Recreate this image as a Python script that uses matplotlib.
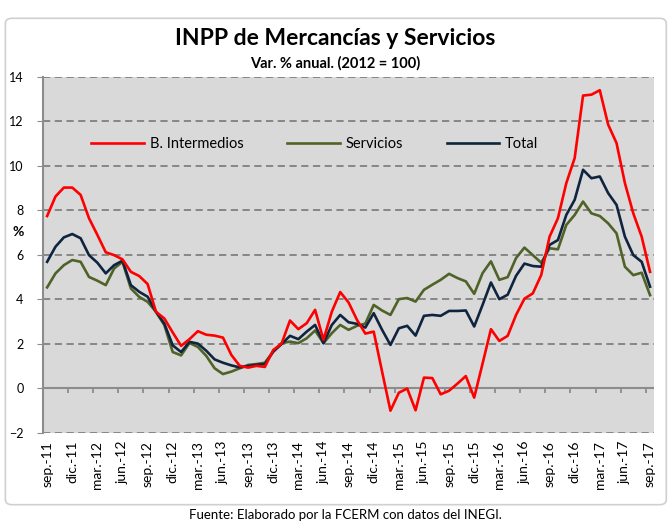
import numpy as np
import matplotlib
matplotlib.use("Agg")
import matplotlib.pyplot as plt
from matplotlib.patches import FancyBboxPatch

plt.rcParams['font.family'] = ['Lato', 'DejaVu Sans']

# monthly, sep-11 .. sep-17
tick_labels = ["sep.-11", "dic.-11", "mar.-12", "jun.-12", "sep.-12", "dic.-12",
               "mar.-13", "jun.-13", "sep.-13", "dic.-13", "mar.-14", "jun.-14",
               "sep.-14", "dic.-14", "mar.-15", "jun.-15", "sep.-15", "dic.-15",
               "mar.-16", "jun.-16", "sep.-16", "dic.-16", "mar.-17", "jun.-17",
               "sep.-17"]

b_intermedios = [7.74, 8.62, 9.02, 9.02, 8.69, 7.64, 6.89, 6.11, 5.98, 5.79,
                 5.23, 5.04, 4.68, 3.43, 3.13, 2.50, 1.90, 2.20, 2.56, 2.40,
                 2.36, 2.27, 1.49, 1.00, 0.92, 1.00, 0.95, 1.71, 2.00, 3.04,
                 2.65, 2.92, 3.52, 2.17, 3.44, 4.32, 3.85, 3.07, 2.45, 2.54,
                 0.74, -1.02, -0.21, -0.02, -1.00, 0.47, 0.45, -0.28, -0.12, 0.20,
                 0.54, -0.43, 1.10, 2.65, 2.12, 2.35, 3.29, 4.02, 4.26, 5.08,
                 6.81, 7.64, 9.22, 10.35, 13.16, 13.20, 13.40, 11.85, 11.02, 9.22,
                 7.86, 6.81, 5.23]

servicios = [4.53, 5.16, 5.53, 5.76, 5.68, 5.00, 4.83, 4.63, 5.38, 5.68,
             4.48, 4.10, 3.88, 3.43, 2.83, 1.62, 1.47, 2.03, 1.85, 1.45,
             0.89, 0.63, 0.74, 0.89, 1.04, 1.08, 1.14, 1.64, 2.02, 2.09,
             2.02, 2.24, 2.59, 2.02, 2.47, 2.84, 2.62, 2.80, 2.90, 3.74,
             3.49, 3.29, 4.00, 4.05, 3.89, 4.42, 4.65, 4.87, 5.14, 4.95,
             4.80, 4.24, 5.17, 5.70, 4.87, 4.99, 5.85, 6.32, 5.98, 5.64,
             6.29, 6.24, 7.34, 7.79, 8.39, 7.86, 7.74, 7.41, 6.96, 5.46,
             5.08, 5.19, 4.18]

total = [5.68, 6.36, 6.78, 6.93, 6.74, 5.98, 5.64, 5.16, 5.53, 5.73,
         4.63, 4.33, 4.11, 3.43, 2.90, 1.92, 1.62, 2.08, 2.00, 1.68,
         1.29, 1.14, 1.02, 0.93, 0.99, 1.05, 1.07, 1.64, 1.98, 2.35,
         2.20, 2.54, 2.84, 2.02, 2.84, 3.29, 2.96, 2.89, 2.72, 3.37,
         2.62, 1.94, 2.69, 2.80, 2.36, 3.25, 3.29, 3.25, 3.47, 3.47,
         3.49, 2.77, 3.74, 4.75, 4.00, 4.20, 5.05, 5.60, 5.49, 5.46,
         6.44, 6.66, 7.79, 8.47, 9.82, 9.44, 9.52, 8.77, 8.24, 6.81,
         5.98, 5.68, 4.56]

x = np.arange(len(total))

fig = plt.figure(figsize=(6.71, 5.23), dpi=100)
ax = fig.add_axes([0.064, 0.173, 0.911, 0.680])
ax.set_facecolor("#D9D9D9")

# chart frame
fig.patches.append(FancyBboxPatch((0.008, 0.035), 0.985, 0.93,
                                  boxstyle="round,pad=0,rounding_size=0.01",
                                  transform=fig.transFigure, facecolor="none",
                                  edgecolor="#D0D0D0", linewidth=1.2, zorder=0))

ax.plot(x, b_intermedios, color="#FF0000", lw=1.9, label="B. Intermedios", zorder=4)
ax.plot(x, servicios, color="#4F6228", lw=1.9, label="Servicios", zorder=3)
ax.plot(x, total, color="#0F243E", lw=1.9, label="Total", zorder=3)

ax.set_xlim(-0.5, 72.5)
ax.set_ylim(-2, 14)
ax.set_yticks(range(-2, 15, 2))
ax.yaxis.grid(True, color="#808080", linestyle=(0, (4, 2.5)), lw=1.3)
ax.set_axisbelow(True)

ax.axhline(0, color="#8C8C8C", lw=1.5, zorder=2)
ax.vlines(np.arange(2.5, 72, 3), -0.22, 0, color="#8C8C8C", lw=1.3, zorder=2)

ax.set_xticks(np.arange(0, 73, 3))
ax.set_xticklabels(tick_labels, rotation=90, fontsize=10)
ax.tick_params(axis="x", length=0, pad=6)
ax.tick_params(axis="y", length=4, color="#8C8C8C", labelsize=9, pad=10)

for s in ["top", "right", "bottom"]:
    ax.spines[s].set_visible(False)
ax.spines["left"].set_color("#8C8C8C")
ax.spines["left"].set_linewidth(1.5)

ax.set_ylabel("%", rotation=0, fontsize=10, fontweight="bold", va="center", ha="center")
ax.yaxis.set_label_coords(-0.04, 0.564)

ax.legend(ncol=3, frameon=False, loc="center", bbox_to_anchor=(0.445, 0.811),
          fontsize=10.5, handlelength=3.6, handletextpad=0.4, columnspacing=3.0)

fig.text(0.5, 0.927, "INPP de Mercancías y Servicios", ha="center", va="center",
         fontsize=16.5, fontweight="bold")
fig.text(0.5, 0.879, "Var. % anual. (2012 = 100)", ha="center", va="center",
         fontsize=10.5, fontweight="bold")
fig.text(0.515, 0.015, "Fuente: Elaborado por la FCERM con datos del INEGI.",
         ha="center", va="center", fontsize=9.5)

fig.savefig("out.png", dpi=100)
